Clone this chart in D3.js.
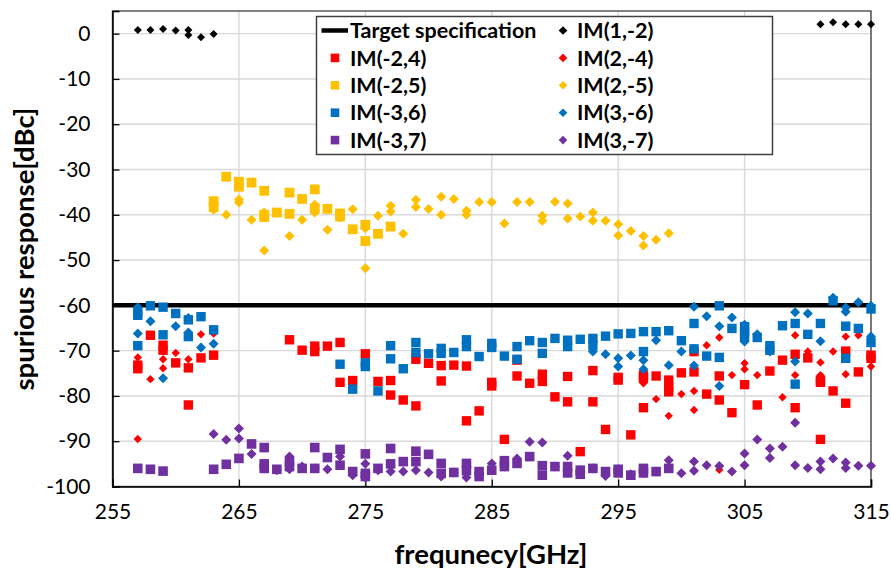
<!DOCTYPE html>
<html><head><meta charset="utf-8">
<script src="https://cdn.jsdelivr.net/npm/d3@7"></script>
<style>body{margin:0;background:#fff}svg{display:block}text{font-family:Lato,"Open Sans",sans-serif}</style>
</head><body><svg id="c" width="891" height="570"></svg>
<script>
const xTicks=[255,265,275,285,295,305,315];
const yTicks=[0,-10,-20,-30,-40,-50,-60,-70,-80,-90,-100];
const targetSpec=-60;
const IM_1m2=[[257,0.8],[258,0.8],[259,1.0],[260,0.7],[261,0.8],[261,-0.3],[262,-0.8],[263,-0.1],[311,2.1],[312,2.5],[313,2.1],[314,2.1],[315,2.1]];
const IM_m24=[[257,-73.2],[257,-74.0],[258,-66.6],[259,-68.8],[259,-69.9],[260,-72.7],[261,-73.8],[261,-82.0],[262,-71.6],[263,-71.0],[269,-67.6],[270,-69.9],[271,-69.0],[271,-70.2],[272,-69.0],[273,-68.2],[273,-77.0],[274,-76.6],[275,-70.7],[276,-76.8],[277,-76.6],[277,-79.8],[278,-80.9],[279,-71.9],[279,-82.2],[280,-72.8],[281,-73.3],[281,-76.7],[282,-73.2],[283,-73.4],[283,-85.5],[284,-83.3],[285,-77.0],[285,-77.8],[286,-89.6],[287,-72.1],[287,-75.6],[288,-77.2],[289,-75.2],[289,-76.8],[290,-80.2],[291,-75.7],[291,-81.3],[292,-92.3],[293,-74.4],[293,-81.3],[294,-87.4],[295,-75.9],[295,-76.5],[296,-88.6],[297,-75.4],[297,-76.1],[297,-82.6],[298,-75.6],[299,-76.5],[299,-78.0],[299,-79.1],[300,-74.9],[301,-70.2],[301,-74.7],[302,-79.6],[303,-75.6],[303,-80.9],[304,-83.7],[305,-77.5],[306,-82.0],[307,-74.5],[308,-72.1],[309,-70.8],[309,-82.6],[310,-71.6],[311,-76.5],[311,-77.0],[311,-89.6],[312,-78.9],[313,-70.1],[313,-81.6],[314,-74.7],[315,-71.0],[315,-71.7]];
const IM_2m4=[[257,-71.5],[257,-89.5],[258,-76.3],[259,-71.9],[259,-73.9],[260,-70.5],[261,-71.9],[262,-66.4],[263,-66.2],[297,-77.2],[298,-80.7],[299,-84.4],[300,-79.6],[301,-78.9],[301,-83.1],[302,-68.8],[303,-67.1],[303,-96.3],[304,-75.4],[305,-72.8],[305,-74.1],[306,-75.4],[307,-70.2],[308,-80.3],[309,-66.6],[309,-75.4],[310,-70.2],[311,-72.6],[311,-75.4],[312,-70.2],[313,-66.9],[313,-75.2],[314,-66.6],[315,-73.5]];
const IM_m25=[[263,-37.0],[263,-38.3],[264,-31.6],[265,-32.7],[265,-33.8],[266,-32.9],[267,-34.7],[267,-40.0],[267,-40.5],[268,-39.5],[269,-35.1],[269,-39.8],[270,-36.5],[271,-34.4],[271,-38.6],[272,-38.7],[273,-39.7],[273,-40.4],[274,-43.2],[275,-42.2],[275,-45.8],[276,-44.2],[277,-42.6]];
const IM_2m5=[[263,-38.9],[264,-40.0],[265,-36.6],[265,-37.3],[266,-41.1],[267,-39.5],[267,-47.9],[269,-44.7],[270,-41.1],[271,-37.8],[271,-39.5],[272,-43.3],[273,-40.6],[274,-38.8],[275,-43.0],[275,-51.8],[276,-40.2],[277,-38.0],[277,-39.3],[278,-44.2],[279,-36.7],[279,-38.3],[280,-38.7],[281,-36.0],[281,-40.0],[282,-36.5],[283,-39.1],[283,-40.0],[284,-37.2],[285,-37.2],[286,-41.9],[287,-37.2],[288,-37.2],[289,-40.2],[289,-41.3],[290,-37.1],[291,-37.5],[291,-40.8],[292,-40.4],[293,-39.5],[293,-41.3],[294,-41.3],[295,-42.1],[295,-44.6],[296,-43.6],[297,-44.7],[297,-46.8],[298,-45.5],[299,-44.1]];
const IM_m36=[[257,-61.5],[257,-62.2],[257,-68.9],[258,-60.1],[259,-60.4],[259,-66.5],[260,-61.8],[261,-63.2],[261,-66.9],[262,-62.5],[263,-65.4],[273,-73.0],[274,-78.5],[275,-72.7],[275,-73.5],[276,-78.9],[277,-68.9],[277,-71.8],[278,-74.0],[279,-68.2],[279,-70.4],[280,-70.7],[281,-69.5],[281,-70.6],[282,-70.4],[283,-67.6],[283,-69.1],[284,-71.3],[285,-68.4],[285,-69.3],[286,-71.2],[287,-69.1],[287,-71.9],[288,-67.8],[289,-68.2],[289,-70.6],[290,-67.3],[291,-67.7],[291,-69.1],[292,-67.5],[293,-67.3],[293,-68.8],[294,-66.8],[295,-66.3],[296,-66.2],[297,-65.8],[297,-70.2],[298,-65.8],[299,-65.6],[300,-67.8],[301,-64.0],[301,-69.6],[302,-71.2],[303,-60.1],[303,-71.5],[304,-65.1],[305,-64.7],[305,-65.8],[305,-66.9],[306,-67.1],[307,-68.9],[307,-69.9],[308,-64.5],[309,-64.0],[309,-77.4],[310,-66.4],[311,-64.0],[312,-59.0],[313,-64.6],[313,-71.7],[314,-65.1],[315,-60.8],[315,-68.2]];
const IM_3m6=[[257,-60.4],[257,-66.2],[258,-63.5],[259,-76.1],[260,-64.6],[261,-62.8],[261,-66.0],[262,-69.3],[263,-68.5],[293,-70.2],[294,-70.8],[295,-71.7],[295,-73.5],[296,-71.1],[297,-72.1],[297,-74.1],[298,-67.7],[299,-73.2],[300,-70.2],[301,-60.3],[301,-73.3],[302,-62.4],[303,-64.6],[303,-77.8],[304,-62.7],[305,-64.3],[305,-68.0],[306,-66.4],[307,-70.2],[309,-61.5],[309,-72.4],[310,-61.8],[311,-67.9],[312,-58.3],[313,-60.5],[313,-61.4],[314,-59.3],[315,-60.1],[315,-66.9]];
const IM_m37=[[257,-96.0],[258,-96.2],[259,-96.6],[263,-96.2],[264,-95.1],[265,-93.8],[266,-90.6],[267,-91.4],[267,-95.0],[267,-96.0],[268,-96.2],[269,-94.5],[269,-95.6],[270,-96.0],[271,-91.4],[271,-96.0],[272,-93.6],[273,-91.8],[273,-95.3],[274,-96.7],[275,-92.8],[275,-97.1],[275,-97.8],[276,-96.0],[277,-91.6],[277,-95.0],[278,-94.5],[279,-92.2],[279,-94.5],[280,-92.9],[281,-94.9],[281,-97.1],[282,-96.9],[283,-94.9],[283,-96.5],[284,-96.7],[284,-97.8],[285,-96.4],[286,-94.3],[286,-95.6],[287,-94.9],[288,-93.4],[289,-95.4],[289,-97.5],[290,-95.6],[291,-95.6],[291,-97.0],[292,-96.4],[292,-97.3],[293,-96.0],[294,-96.7],[295,-96.2],[295,-97.0],[296,-97.5],[297,-96.0],[297,-97.0],[298,-96.7],[299,-96.0]];
const IM_3m7=[[263,-88.4],[264,-89.7],[265,-87.2],[265,-89.4],[266,-92.8],[267,-96.0],[268,-96.4],[269,-93.4],[269,-96.2],[270,-95.6],[271,-96.0],[272,-96.2],[273,-93.4],[274,-97.5],[275,-95.0],[275,-98.0],[276,-96.4],[277,-96.7],[278,-96.7],[279,-96.4],[280,-96.9],[281,-97.8],[282,-96.9],[283,-98.0],[284,-97.0],[285,-94.9],[286,-95.6],[287,-93.8],[288,-90.1],[289,-90.3],[290,-95.6],[291,-93.2],[292,-96.4],[293,-96.0],[294,-97.7],[295,-96.2],[296,-97.3],[297,-97.0],[298,-96.7],[299,-94.2],[300,-97.1],[301,-94.5],[301,-96.5],[302,-95.3],[303,-95.5],[304,-96.7],[305,-92.7],[305,-95.3],[306,-89.6],[307,-91.6],[307,-93.7],[308,-91.2],[309,-85.9],[309,-95.3],[310,-95.9],[311,-94.5],[311,-96.2],[312,-93.8],[313,-94.7],[313,-95.9],[314,-95.4],[315,-95.4]];

const series=[
 {name:"IM(1,-2)",data:IM_1m2,color:"#000000",shape:"d",size:4},
 {name:"IM(-2,4)",data:IM_m24,color:"#FF0000",shape:"s",size:4.7},
 {name:"IM(2,-4)",data:IM_2m4,color:"#FF0000",shape:"d",size:4.2},
 {name:"IM(-2,5)",data:IM_m25,color:"#FFC000",shape:"s",size:4.9},
 {name:"IM(2,-5)",data:IM_2m5,color:"#FFC000",shape:"d",size:5},
 {name:"IM(-3,6)",data:IM_m36,color:"#0070C0",shape:"s",size:4.7},
 {name:"IM(3,-6)",data:IM_3m6,color:"#0070C0",shape:"d",size:5},
 {name:"IM(-3,7)",data:IM_m37,color:"#7030A0",shape:"s",size:4.8},
 {name:"IM(3,-7)",data:IM_3m7,color:"#7030A0",shape:"d",size:5}
];

const svg=d3.select("#c");
const L=112.5,R=871,T=11,B=486.5;
const x=d3.scaleLinear().domain([255,315]).range([L,R]);
const y=d3.scaleLinear().domain([-100,5]).range([B,T]);

svg.append("g").selectAll("line").data(yTicks).join("line")
 .attr("x1",L).attr("x2",R).attr("y1",d=>y(d)).attr("y2",d=>y(d))
 .attr("stroke","#d9d9d9").attr("stroke-width",1.4);
svg.append("g").selectAll("line").data(xTicks).join("line")
 .attr("y1",T).attr("y2",B).attr("x1",d=>x(d)).attr("x2",d=>x(d))
 .attr("stroke","#d9d9d9").attr("stroke-width",1.4);

svg.append("rect").attr("x",L).attr("y",T).attr("width",R-L).attr("height",B-T)
 .attr("fill","none").attr("stroke","#404040").attr("stroke-width",1.3);

const yAxis=d3.axisLeft(y).tickValues(yTicks).tickSize(-7).tickPadding(22).tickFormat(d=>d);
const gy=svg.append("g").attr("transform",`translate(${L},0)`).call(yAxis);
const xAxis=d3.axisBottom(x).tickValues(xTicks).tickSize(-7).tickPadding(18).tickFormat(d=>d);
const gx=svg.append("g").attr("transform",`translate(0,${B})`).call(xAxis);
[gx,gy].forEach(g=>{
 g.select(".domain").attr("stroke","#000").attr("stroke-width",1.5);
 g.selectAll(".tick line").attr("stroke","#000").attr("stroke-width",1.3);
 g.selectAll(".tick text").attr("font-size",21).attr("fill","#000").style("font-family","Lato");
});
gy.selectAll(".tick text").attr("x",-22);

svg.append("line").attr("x1",L).attr("x2",R).attr("y1",y(targetSpec)).attr("y2",y(targetSpec))
 .attr("stroke","#000").attr("stroke-width",4.5);

function shapePath(shape,r){
 return shape==="s"?`M${-r},${-r}H${r}V${r}H${-r}Z`:`M0,${-r}L${r},0L0,${r}L${-r},0Z`;
}
series.forEach(s=>{
 svg.append("g").selectAll("path").data(s.data).join("path")
  .attr("d",shapePath(s.shape,s.size))
  .attr("transform",d=>`translate(${x(d[0])},${y(d[1])})`)
  .attr("fill",s.color);
});

svg.append("text").attr("transform","translate(34,249) rotate(-90)")
 .attr("text-anchor","middle").attr("font-size",27.5).attr("font-weight","bold").text("spurious response[dBc]");
svg.append("text").attr("x",491).attr("y",564)
 .attr("text-anchor","middle").attr("font-size",27.5).attr("font-weight","bold").text("frequnecy[GHz]");

const lg=svg.append("g");
lg.append("rect").attr("x",316.5).attr("y",16.5).attr("width",456).attr("height",138)
 .attr("fill","#fff").attr("stroke","#404040").attr("stroke-width",1.5);
const rowY=i=>30.5+i*27.4;
const items=[
 {col:0,row:0,name:"Target specification",line:true},
 {col:1,row:0,s:series[0]},
 {col:0,row:1,s:series[1]},{col:1,row:1,s:series[2]},
 {col:0,row:2,s:series[3]},{col:1,row:2,s:series[4]},
 {col:0,row:3,s:series[5]},{col:1,row:3,s:series[6]},
 {col:0,row:4,s:series[7]},{col:1,row:4,s:series[8]}
];
items.forEach(it=>{
 const mx=it.col===0?335:563, tx=it.col===0?350:577, yy=rowY(it.row);
 if(it.line){
  lg.append("line").attr("x1",321.5).attr("x2",348).attr("y1",yy).attr("y2",yy).attr("stroke","#000").attr("stroke-width",4.5);
 } else {
  lg.append("path").attr("d",shapePath(it.s.shape,4.3)).attr("transform",`translate(${mx},${yy})`).attr("fill",it.s.color);
 }
 lg.append("text").attr("x",tx).attr("y",yy).attr("dy","0.36em").attr("font-size",21.5).attr("font-weight","bold")
  .text(it.line?it.name:it.s.name);
});
</script></body></html>
